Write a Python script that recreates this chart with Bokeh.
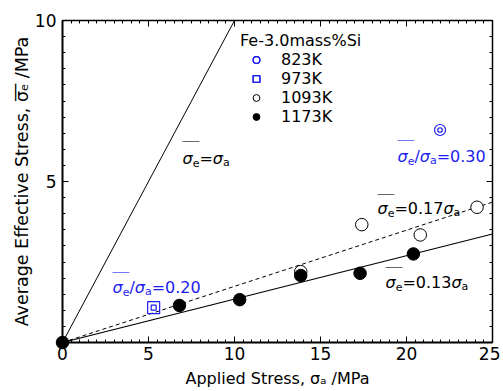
from bokeh.plotting import figure
from bokeh.models import Range1d, LinearAxis, Label, Arrow, Legend, LegendItem, FixedTicker
from bokeh.embed import file_html
from bokeh.resources import INLINE

# ---------------- data ----------------
x_1173 = [0.0, 6.8, 10.3, 13.85, 17.3, 20.4]
y_1173 = [0.0, 1.15, 1.33, 2.08, 2.15, 2.75]
x_1093 = [13.85, 17.4, 20.8, 24.1]
y_1093 = [2.2, 3.66, 3.34, 4.2]
x_973 = [5.3]
y_973 = [1.08]
x_823 = [21.95]
y_823 = [6.6]

eq_x = [0, 10]          # sigma_e = sigma_a
eq_y = [0, 10]
fit_x = [0, 25]
fit013_y = [0, 3.37]    # solid fit line
fit017_y = [0, 4.36]    # dashed fit line

x_major = [0, 5, 10, 15, 20, 25]
y_major = [5, 10]
x_minor = [i * 0.5 for i in range(51)]
y_minor = [i * 0.5 for i in range(21)]

legend_title = "Fe-3.0mass%Si"
legend_labels = ["823K", "973K", "1093K", "1173K"]
x_title = "Applied Stress, σₐ /MPa"
y_title = "Average Effective Stress, σ\u0305ₑ\u0305 /MPa"

FONT = "DejaVu Sans"
BLUE = "#1c1cf0"
BLACK = "#000000"

# ---------------- figure ----------------
p = figure(width=500, height=390, x_range=Range1d(0, 25), y_range=Range1d(0, 10),
           output_backend="svg", toolbar_location=None,
           min_border_left=62, min_border_right=8, min_border_top=20, min_border_bottom=48,
           background_fill_color="white", border_fill_color="white", outline_line_color=None)
p.grid.visible = False
x_bottom = p.xaxis[0]
y_left = p.yaxis[0]


def style_axis(ax, major, minor, labels=True, lw=1.5, standoff=5):
    ax.ticker = FixedTicker(ticks=major, minor_ticks=minor)
    ax.major_tick_in = 6
    ax.major_tick_out = 0
    ax.minor_tick_in = 3
    ax.minor_tick_out = 0
    ax.axis_line_width = lw
    ax.axis_line_color = BLACK
    ax.major_tick_line_color = BLACK
    ax.minor_tick_line_color = BLACK
    ax.major_tick_line_width = 1
    ax.minor_tick_line_width = 1
    ax.major_label_text_font = FONT
    ax.major_label_text_color = BLACK
    if labels:
        ax.major_label_text_font_size = "17px"
        ax.major_label_standoff = standoff
    else:
        ax.major_label_overrides = {t: "" for t in major}
        ax.major_label_text_font_size = "1px"
        ax.major_label_standoff = 0


style_axis(x_bottom, x_major, x_minor, True, 2, 4)
style_axis(y_left, y_major, y_minor, True, 2, 6)
top_ax = LinearAxis()
right_ax = LinearAxis()
style_axis(top_ax, x_major, x_minor, False, 1.5)
style_axis(right_ax, y_major, y_minor, False, 1.5)
p.add_layout(top_ax, "above")
p.add_layout(right_ax, "right")

for ax, txt, size, so in ((x_bottom, x_title, "16px", 6), (y_left, y_title, "17.5px", 0)):
    ax.axis_label = txt
    ax.axis_label_text_font = FONT
    ax.axis_label_text_font_size = size
    ax.axis_label_text_font_style = "normal"
    ax.axis_label_text_color = BLACK
    ax.axis_label_standoff = so

# ---------------- lines ----------------
p.line(eq_x, eq_y, line_color=BLACK, line_width=1)
p.line(fit_x, fit013_y, line_color=BLACK, line_width=1.1)
p.line(fit_x, fit017_y, line_color=BLACK, line_width=1, line_dash="4 3")

# ---------------- points ----------------
r823a = p.scatter(x_823, y_823, marker="circle", size=11, fill_color=None, line_color=BLUE, line_width=1.2)
r823b = p.scatter(x_823, y_823, marker="circle", size=4.5, fill_color=None, line_color=BLUE, line_width=1.2)
r973a = p.scatter(x_973, y_973, marker="square", size=12, fill_color=None, line_color=BLUE, line_width=1.2)
r973b = p.scatter(x_973, y_973, marker="square", size=5, fill_color=None, line_color=BLUE, line_width=1.2)
r1093 = p.scatter(x_1093, y_1093, marker="circle", size=12.5, fill_color="white", line_color=BLACK, line_width=1)
r1173 = p.scatter(x_1173, y_1173, marker="circle", size=12.5, fill_color=BLACK, line_color=BLACK, level="overlay")

legend = Legend(items=[LegendItem(label=legend_labels[0], renderers=[r823a, r823b]),
                       LegendItem(label=legend_labels[1], renderers=[r973a, r973b]),
                       LegendItem(label=legend_labels[2], renderers=[r1093]),
                       LegendItem(label=legend_labels[3], renderers=[r1173])],
                title=legend_title, location=(178, 216),
                border_line_color=None, background_fill_alpha=0,
                padding=0, margin=0, spacing=-1,
                glyph_width=32, glyph_height=17, label_height=17, label_standoff=9,
                label_text_font=FONT, label_text_font_size="16px", label_text_color=BLACK,
                title_text_font=FONT, title_text_font_size="16px", title_text_font_style="normal",
                title_text_color=BLACK, title_standoff=-5)
p.add_layout(legend)

# ---------------- rich text helpers (annotations inside the frame) ----------------
W = {" ": .318, ",": .318, "-": .361, ".": .318, "/": .337, "=": .838, "%": .950,
     "a": .613, "e": .615, "σ": .634}
for d in "0123456789":
    W[d] = .636


def tw(s, fs):
    return sum(W.get(c, 0.6) for c in s) * fs


def dxp(px):
    return (px - 62) / 17.2


def dyp(py):
    return (342 - py) / 32.2


def seg_style(kind, size):
    if kind == "n":
        return size, "normal", 0
    if kind == "g":
        return size, "italic", 0
    return round(size * 0.7), "normal", 4


def rich_h(px, py, segs, color, size=16, over=(0, 2), over_dy=16):
    cur = px
    starts = []
    for txt, kind in segs:
        fs, st, off = seg_style(kind, size)
        p.add_layout(Label(x=dxp(cur), y=dyp(py + off), text=txt, text_font=FONT,
                           text_font_size=f"{fs}px", text_font_style=st, text_color=color,
                           text_baseline="alphabetic", text_align="left"))
        starts.append(cur)
        cur += tw(txt, fs)
    starts.append(cur)
    a, b = over
    p.add_layout(Arrow(start=None, end=None, x_start=dxp(starts[a]), y_start=dyp(py - over_dy),
                       x_end=dxp(starts[b]), y_end=dyp(py - over_dy),
                       line_color=color, line_width=1, line_alpha=0.6))


rich_h(182, 158, [("σ", "g"), ("e", "s"), ("=", "n"), ("σ", "g"), ("a", "s")], BLACK, over_dy=17)
rich_h(397, 156, [("σ", "g"), ("e", "s"), ("/", "n"), ("σ", "g"), ("a", "s"), ("=0.30", "n")], BLUE, over_dy=16)
rich_h(377, 208, [("σ", "g"), ("e", "s"), ("=0.17", "n"), ("σ", "g"), ("a", "s")], BLACK, over_dy=14)
rich_h(385, 282, [("σ", "g"), ("e", "s"), ("=0.13", "n"), ("σ", "g"), ("a", "s")], BLACK, over_dy=15)
rich_h(112, 287, [("σ", "g"), ("e", "s"), ("/", "n"), ("σ", "g"), ("a", "s"), ("=0.20", "n")], BLUE, over_dy=15)

open("out.html", "w").write(file_html(p, INLINE))
